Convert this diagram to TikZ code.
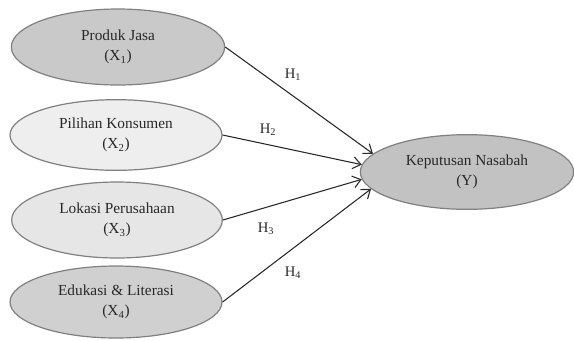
\documentclass[tikz,border=0pt]{standalone}
\usepackage{fontspec}
\setmainfont{Liberation Serif}
\usetikzlibrary{shapes.geometric,arrows.meta}
\definecolor{fillA}{RGB}{201,201,201}
\definecolor{fillB}{RGB}{238,238,238}
\definecolor{fillC}{RGB}{230,230,230}
\definecolor{fillD}{RGB}{208,208,208}
\definecolor{fillY}{RGB}{194,194,194}
\definecolor{rim}{RGB}{128,128,128}
\definecolor{ink}{RGB}{40,40,40}

\begin{document}
\begin{tikzpicture}[x=0.75pt, y=-0.75pt,
  var/.style={ellipse, draw=rim, line width=0.9pt, inner sep=0pt, align=center,
    text=ink, font=\fontsize{11.5}{15}\selectfont},
  hyp/.style={line width=0.8pt, draw=ink, -{Straight Barb[length=6pt,width=9pt]}},
  hlab/.style={text=ink, font=\fontsize{11}{13}\selectfont}]
\useasboundingbox (0,0) rectangle (574,340);
\node[var, fill=fillA, minimum width=160pt, minimum height=57pt] (x1) at (118,47) {Produk Jasa\\(X\textsubscript{1})};
\node[var, fill=fillB, minimum width=159pt, minimum height=53pt] (x2) at (116,135) {Pilihan Konsumen\\(X\textsubscript{2})};
\node[var, fill=fillC, minimum width=158pt, minimum height=57pt] (x3) at (117,220) {Lokasi Perusahaan\\(X\textsubscript{3})};
\node[var, fill=fillD, minimum width=159pt, minimum height=54pt] (x4) at (116,302) {Edukasi \& Literasi\\(X\textsubscript{4})};
\node[var, fill=fillY, minimum width=160pt, minimum height=56pt] (y) at (467,172) {Keputusan Nasabah\\(Y)};
\draw[hyp] (x1.east) -- (y.169);
\draw[hyp] (x2.east) -- (y.176);
\draw[hyp] (x3.east) -- (y.184);
\draw[hyp] (x4.east) -- (y.190);
\node[hlab] (h1) at (293,75) {H\textsubscript{1}};
\node[hlab] (h2) at (268,130) {H\textsubscript{2}};
\node[hlab] (h3) at (266,229) {H\textsubscript{3}};
\node[hlab] (h4) at (293,273) {H\textsubscript{4}};
\end{tikzpicture}
\end{document}
